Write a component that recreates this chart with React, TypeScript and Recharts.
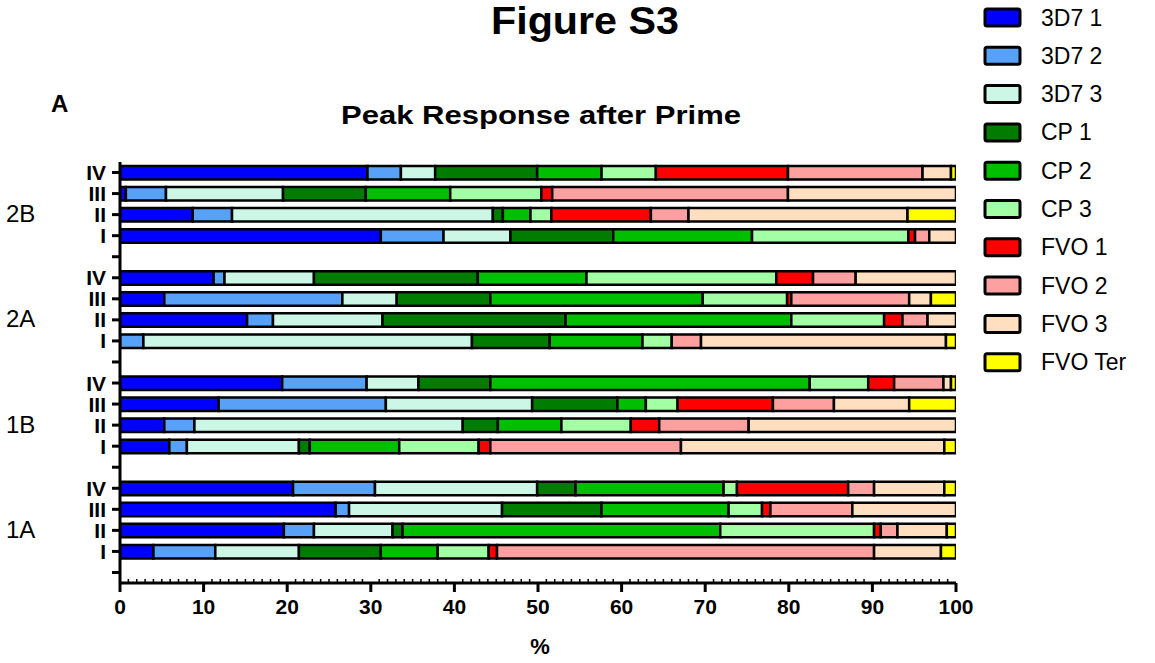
import { BarChart, Bar, XAxis, YAxis } from 'recharts';

const groups = ['2B', '2A', '1B', '1A'];
const animals = ['IV', 'III', 'II', 'I'];

const seriesNames = ['3D7 1', '3D7 2', '3D7 3', 'CP 1', 'CP 2', 'CP 3', 'FVO 1', 'FVO 2', 'FVO 3', 'FVO Ter'];
const seriesColors = ['#0000ff', '#57a2f8', '#ccf6e6', '#007d00', '#00bf00', '#a3ffa3', '#ff0000', '#ffa0a0', '#ffdfc0', '#ffff00'];

// row order: 2B IV, III, II, I | 2A IV..I | 1B IV..I | 1A IV..I  (percent of response)
const s3d7_1 = [29.6, 0.7, 8.7, 31.2, 11.2, 5.3, 15.2, 0, 19.4, 11.8, 5.3, 5.9, 20.7, 25.8, 19.6, 4.0];
const s3d7_2 = [4.0, 4.8, 4.7, 7.5, 1.3, 21.3, 3.1, 2.8, 10.1, 20.0, 3.6, 2.1, 9.8, 1.6, 3.6, 7.4];
const s3d7_3 = [4.1, 14.0, 31.2, 8.0, 10.7, 6.5, 13.1, 39.3, 6.2, 17.5, 32.1, 13.4, 19.4, 18.3, 9.4, 10.0];
const sCp1 = [12.2, 9.9, 1.2, 12.3, 19.6, 11.2, 21.9, 9.3, 8.6, 10.2, 4.2, 1.3, 4.6, 11.9, 1.2, 9.8];
const sCp2 = [7.7, 10.1, 3.3, 16.6, 13.0, 25.4, 27.0, 11.1, 38.2, 3.4, 7.6, 10.7, 17.7, 15.2, 38.0, 6.8];
const sCp3 = [6.5, 10.9, 2.5, 18.7, 22.7, 10.1, 11.1, 3.5, 7.0, 3.8, 8.3, 9.5, 1.6, 4.0, 18.4, 6.1];
const sFvo1 = [15.8, 1.3, 11.9, 0.8, 4.4, 0.5, 2.2, 0, 3.1, 11.4, 3.4, 1.4, 13.3, 1.0, 0.8, 1.0];
const sFvo2 = [16.1, 28.2, 4.5, 1.7, 5.1, 14.1, 3.0, 3.5, 5.9, 7.3, 10.7, 22.8, 3.1, 9.8, 2.0, 45.1];
const sFvo3 = [3.4, 20.1, 26.2, 3.2, 12.0, 2.6, 3.4, 29.3, 0.9, 9.0, 24.8, 31.5, 8.4, 12.4, 5.9, 8.0];
const sFvoTer = [0.6, 0, 5.8, 0, 0, 3.0, 0, 1.2, 0.6, 5.6, 0, 1.4, 1.4, 0, 1.1, 1.8];

const seriesValues = [s3d7_1, s3d7_2, s3d7_3, sCp1, sCp2, sCp3, sFvo1, sFvo2, sFvo3, sFvoTer];

const xTicks = Array.from({ length: 101 }, (_, i) => i);

type Row = { [k: string]: string | number | null };

const rows: Row[] = [];
groups.forEach((g, gi) => {
  animals.forEach((a, ai) => {
    const row: Row = { key: `${g}-${a}` };
    seriesValues.forEach((vals, si) => {
      row[`s${si}`] = vals[gi * 4 + ai];
    });
    rows.push(row);
  });
  // empty slot between groups
  rows.push({ key: `${g}-gap` });
});

const YTick = (props: any) => {
  const { x, y, payload } = props;
  const [g, a] = String(payload.value).split('-');
  return (
    <g>
      <line x1={x - 8} x2={x} y1={y} y2={y} stroke="#000" strokeWidth={3} />
      {a !== 'gap' && (
        <text x={x - 14} y={y} textAnchor="end" dominantBaseline="central" fontWeight="bold" fontSize={21}>
          {a}
        </text>
      )}
      {a === 'II' && (
        <text x={6} y={y - 1} dominantBaseline="central" fontSize={24}>
          {g}
        </text>
      )}
    </g>
  );
};

const XTick = (props: any) => {
  const { x, y, payload } = props;
  const v = payload.value;
  if (v % 10 !== 0) {
    return <line x1={x} x2={x} y1={y - 4} y2={y} stroke="#000" strokeWidth={1.5} />;
  }
  return (
    <g>
      <line x1={x} x2={x} y1={y} y2={y + 9} stroke="#000" strokeWidth={3} />
      <text x={x} y={y + 23} textAnchor="middle" dominantBaseline="central" fontWeight="bold" fontSize={21}>
        {v}
      </text>
    </g>
  );
};

export default function App() {
  return (
    <div
      style={{
        position: 'absolute',
        left: 0,
        top: 0,
        width: 1155,
        height: 663,
        background: '#fff',
        fontFamily: '"Liberation Sans", Arial, sans-serif',
      }}
    >
      <BarChart
        width={1155}
        height={663}
        data={rows}
        layout="vertical"
        barSize={13.5}
        margin={{ top: 162, right: 199, bottom: 0, left: 0 }}
      >
        <XAxis
          type="number"
          domain={[0, 100]}
          allowDataOverflow
          ticks={xTicks}
          interval={0}
          height={80}
          tickSize={0}
          tickMargin={0}
          tick={<XTick />}
          axisLine={{ stroke: '#000', strokeWidth: 3 }}
        />
        <YAxis
          type="category"
          dataKey="key"
          width={120}
          interval={0}
          tickSize={0}
          tickMargin={0}
          tick={<YTick />}
          axisLine={{ stroke: '#000', strokeWidth: 3 }}
        />
        {seriesNames.map((name, i) => (
          <Bar
            key={name}
            dataKey={`s${i}`}
            name={name}
            stackId="a"
            fill={seriesColors[i]}
            stroke="#000"
            strokeWidth={2.5}
            isAnimationActive={false}
          />
        ))}
      </BarChart>

      <svg width={1155} height={663} style={{ position: 'absolute', left: 0, top: 0, pointerEvents: 'none' }}>
        <text x={585} y={34} textAnchor="middle" fontWeight="bold" fontSize={38} textLength={188} lengthAdjust="spacingAndGlyphs">
          Figure S3
        </text>
        <text x={51} y={112} fontWeight="bold" fontSize={24}>
          A
        </text>
        <text x={541} y={124} textAnchor="middle" fontWeight="bold" fontSize={26} textLength={400} lengthAdjust="spacingAndGlyphs">
          Peak Response after Prime
        </text>
        <text x={540} y={646} textAnchor="middle" dominantBaseline="central" fontWeight="bold" fontSize={22}>
          %
        </text>
        {seriesNames.map((name, i) => {
          const cy = 17.5 + i * 38.3;
          return (
            <g key={name}>
              <rect x={985} y={cy - 8.5} width={35} height={17} rx={2} fill={seriesColors[i]} stroke="#000" strokeWidth={3} />
              <text x={1041} y={cy} dominantBaseline="central" fontSize={23}>
                {name}
              </text>
            </g>
          );
        })}
      </svg>
    </div>
  );
}
